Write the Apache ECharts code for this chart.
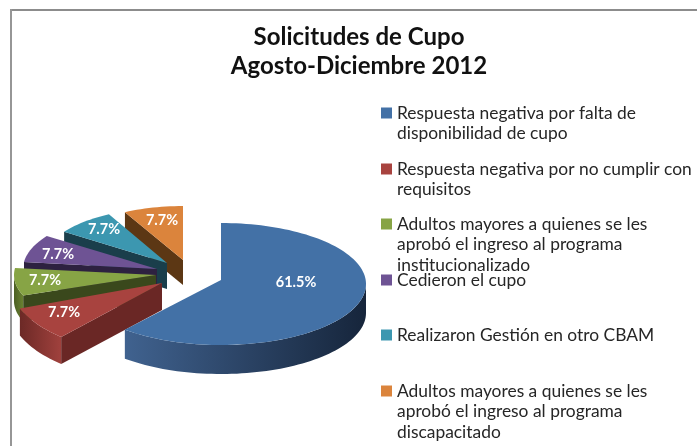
<!DOCTYPE html>
<html><head><meta charset="utf-8">
<style>html,body{margin:0;padding:0;background:#fff}#c{width:697px;height:446px}</style>
<script src="https://cdn.jsdelivr.net/npm/echarts@6/dist/echarts.min.js"></script>
</head><body><div id="c"></div>
<script>
var titleLines = ['Solicitudes de Cupo', 'Agosto-Diciembre 2012'];
var categories = [
  'Respuesta negativa por falta de disponibilidad de cupo',
  'Respuesta negativa por no cumplir con requisitos',
  'Adultos mayores a quienes se les aprobó el ingreso al programa institucionalizado',
  'Cedieron el cupo',
  'Realizaron Gestión en otro CBAM',
  'Adultos mayores a quienes se les aprobó el ingreso al programa discapacitado'
];
var legendLines = [
  ['Respuesta negativa por falta de', 'disponibilidad de cupo'],
  ['Respuesta negativa por no cumplir con', 'requisitos'],
  ['Adultos mayores a quienes se les', 'aprobó el ingreso al programa', 'institucionalizado'],
  ['Cedieron el cupo'],
  ['Realizaron Gestión en otro CBAM'],
  ['Adultos mayores a quienes se les', 'aprobó el ingreso al programa', 'discapacitado']
];
var values = [8, 1, 1, 1, 1, 1];
var topColors = ['#4371a6', '#a8433f', '#87a445', '#6e5394', '#3c97b0', '#db843c'];

// Presentation of the tilted, exploded pie
var legendFirstLineY = [113, 169, 224, 280, 335, 391];
var LH = 20.6;
var geom = [
  {ax:221, ay:284, rx:145, ry:61, d:29, apexY:280, lx:296, ly:282, outer:['#40628f','#16253b'], start:'#1b2b44'},
  {ax:162, ay:283, rx:152, ry:72, d:27, lx:64, ly:312, outer:['#6c2926','#a0413d'], start:'#6a2725'},
  {ax:156, ay:275, rx:142, ry:58, d:26, lx:45, ly:280, outer:['#4c5f23','#6a8232'], start:'#3a481c'},
  {ax:157, ay:269, rx:134, ry:58, d:26, lx:58, ly:254, outer:['#3f2f59','#3f2f59'], start:'#2d2140'},
  {ax:167, ay:263, rx:125, ry:55, d:26, lx:104, ly:229, outer:['#1a3e4b','#1a3e4b'], start:'#1a3e4b'},
  {ax:183, ay:260, rx:125, ry:54, d:25, lx:162, ly:220, outer:['#5c3714','#5c3714'], start:'#5c3714'}
];

var sum = values.reduce(function (a, b) { return a + b; }, 0);
var angles = [], acc = 0;
values.forEach(function (v) {
  angles.push([acc / sum * 360, (acc + v) / sum * 360]);
  acc += v;
});
function pt(g, deg) {
  var r = deg * Math.PI / 180;
  return [g.ax + g.rx * Math.sin(r), g.ay - g.ry * Math.cos(r)];
}
function arc(g, a, b) {
  var out = [], n = Math.max(2, Math.ceil(Math.abs(b - a) / 2));
  for (var i = 0; i <= n; i++) out.push(pt(g, a + (b - a) * i / n));
  return out;
}
function renderSlice(idx) {
  return function (params, api) {
    var g = geom[idx], a = angles[idx][0], b = angles[idx][1];
    var apex = [g.ax, g.apexY || g.ay];
    var kids = [];
    var down = function (p) { return [p[0], p[1] + g.d]; };
    // outer wall: only where the rim faces the viewer (90deg to 270deg)
    var wa = Math.max(a, 90), wb = Math.min(b, 270);
    if (wb > wa) {
      var top = arc(g, wa, wb);
      var poly = top.concat(top.slice().reverse().map(down));
      kids.push({type:'polygon', shape:{points:poly}, style:{
        fill:new echarts.graphic.LinearGradient(1,0,0,0,[{offset:0,color:g.outer[1]},{offset:1,color:g.outer[0]}],false)
      }});
    }
    // radial wall on the leading edge
    if (idx > 0) {
      var s = pt(g, a);
      kids.push({type:'polygon', shape:{points:[apex, s, down(s), down(apex)]}, style:{fill:g.start}});
    }
    // top face
    var face = [apex].concat(arc(g, a, b));
    kids.push({type:'polygon', shape:{points:face}, style:{fill:topColors[idx]}});
    // value label
    kids.push({type:'text', x:g.lx, y:g.ly, style:{
      text:(api.value(0) / sum * 100).toFixed(1) + '%', fill:'#fff',
      font:'bold 14.5px Lato, sans-serif', align:'center', verticalAlign:'middle'
    }});
    return {type:'group', children:kids};
  };
}

var order = [5, 4, 3, 2, 1, 0];
var series = categories.map(function (name, i) {
  return {
    type:'custom', name:name, coordinateSystem:'none', silent:true, animation:false,
    z:2 + order.indexOf(i), itemStyle:{color:topColors[i]},
    data:[[values[i]]], renderItem:renderSlice(i)
  };
});
var legends = categories.map(function (name, i) {
  var n = legendLines[i].length;
  var pad = new Array(n).join('\n');
  return {
    show:true, data:[name], orient:'vertical', left:381, top:legendFirstLineY[i] - LH * (2 * n - 1) / 2,
    padding:0, icon:'rect', itemWidth:11, itemHeight:11, itemGap:0, selectedMode:false,
    textStyle:{fontFamily:'Lato, sans-serif', fontSize:17.4, color:'#262626', lineHeight:LH},
    formatter:function () { return pad + legendLines[i].join('\n'); }
  };
});
var chart = echarts.init(document.getElementById('c'), null, {renderer:'canvas'});
chart.setOption({
  animation:false,
  backgroundColor:'#fff',
  title:{
    text:titleLines.join('\n'), left:354, top:18, textAlign:'center',
    textStyle:{fontFamily:'Lato, sans-serif', fontWeight:'bold', fontSize:24, color:'#111', lineHeight:29}
  },
  legend:legends,
  series:series,
  graphic:[
    {type:'rect', shape:{x:10,y:9,width:687,height:2}, style:{fill:'#8c8c8c'}, silent:true},
    {type:'rect', shape:{x:10,y:9,width:2,height:437}, style:{fill:'#969696'}, silent:true}
  ]
});
</script></body></html>
